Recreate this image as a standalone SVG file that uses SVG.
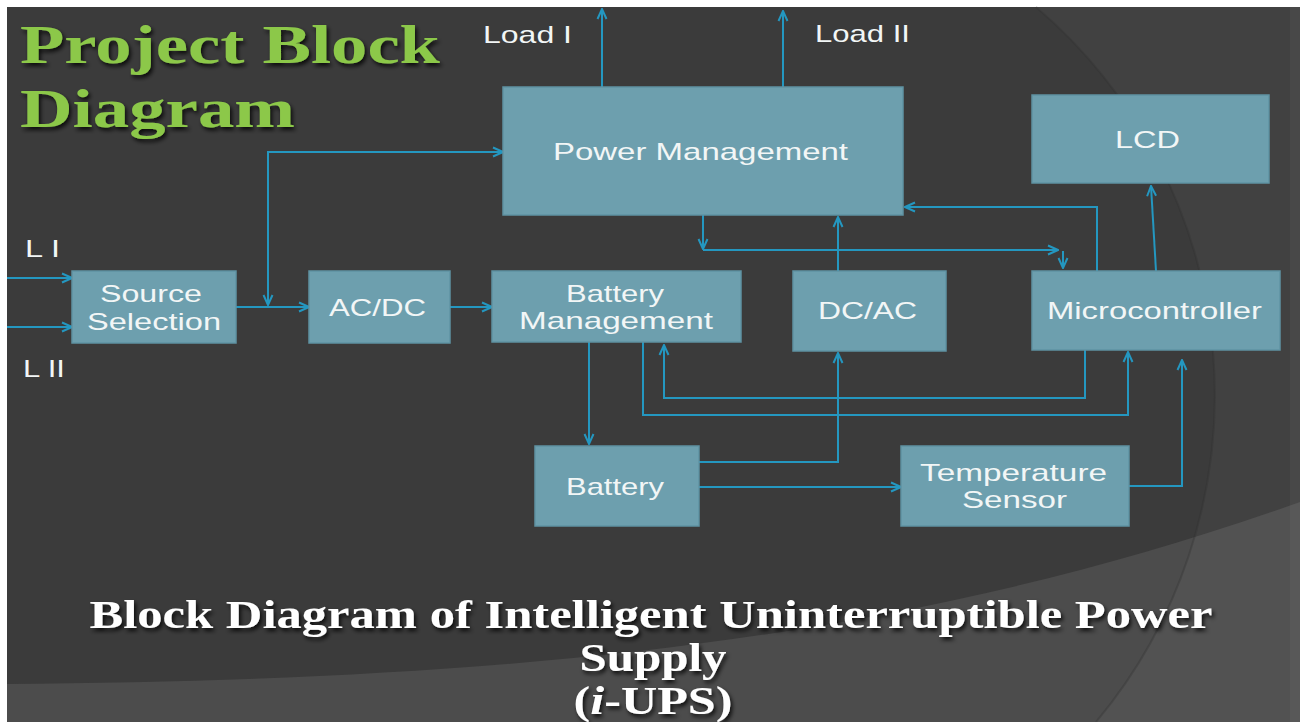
<svg xmlns="http://www.w3.org/2000/svg" width="1302" height="722" viewBox="0 0 1302 722">
<defs>
<marker id="arr" viewBox="0 0 12 12" refX="11" refY="6" markerWidth="12" markerHeight="12" markerUnits="userSpaceOnUse" orient="auto-start-reverse">
<path d="M1,1.5 L11,6 L1,10.5" fill="none" stroke="#2497c0" stroke-width="2"/>
</marker>
<filter id="sh" x="-5%" y="-20%" width="110%" height="140%">
<feDropShadow dx="2" dy="3" stdDeviation="2" flood-color="#000" flood-opacity="0.8"/>
</filter>
</defs>
<style>
.node rect{fill:#6d9fae;stroke:#5f93a3;stroke-width:1.5}
.node text{font-family:"Liberation Sans",Arial,sans-serif;font-size:24px;fill:#f2f6f6;text-anchor:middle}
.lbl{font-family:"Liberation Sans",Arial,sans-serif;font-size:24px;fill:#f2f6f6}
.conn path{fill:none;stroke:#2497c0;stroke-width:2}
.title{font-family:"Liberation Serif","Times New Roman",serif;font-weight:bold;font-size:54px;fill:#8cc84a}
.cap{font-family:"Liberation Serif","Times New Roman",serif;font-weight:bold;font-size:40px;fill:#ffffff;text-anchor:middle}
</style>
<rect x="0" y="0" width="1302" height="722" fill="#ffffff"/>
<g id="background">
<rect x="7" y="7" width="1293" height="715" fill="#3b3b3b"/>
<path d="M7,684 C500,680 900,645 1300,502 L1300,722 L7,722 Z" fill="#4c4c4c"/>
<path d="M1036,7 A510,510 0 0 1 1096,722 L1300,722 L1300,7 Z" fill="#ffffff" fill-opacity="0.035"/>
<path d="M1036,7 A510,510 0 0 1 1096,722" fill="none" stroke="#2f2f2f" stroke-width="2" stroke-opacity="0.3"/>
<rect x="1290" y="7" width="10" height="715" fill="#ffffff" fill-opacity="0.04"/>
</g>
<g id="title">
<text class="title" x="20" y="63" textLength="420" lengthAdjust="spacingAndGlyphs" filter="url(#sh)">Project Block</text>
<text class="title" x="20" y="127" textLength="275" lengthAdjust="spacingAndGlyphs" filter="url(#sh)">Diagram</text>
</g>
<g id="labels">
<text class="lbl" x="483" y="43" textLength="89" lengthAdjust="spacingAndGlyphs">Load I</text>
<text class="lbl" x="815" y="42" textLength="95" lengthAdjust="spacingAndGlyphs">Load II</text>
<text class="lbl" x="25" y="257" textLength="35" lengthAdjust="spacingAndGlyphs">L I</text>
<text class="lbl" x="23" y="377" textLength="42" lengthAdjust="spacingAndGlyphs">L II</text>
</g>
<g id="connectors" class="conn">
<path d="M7,278 H72" marker-end="url(#arr)"/>
<path d="M7,327 H72" marker-end="url(#arr)"/>
<path d="M236,307 H309" marker-end="url(#arr)"/>
<path d="M268,305 V152 H503" marker-start="url(#arr)" marker-end="url(#arr)"/>
<path d="M450,307 H492" marker-end="url(#arr)"/>
<path d="M602,87 V9" marker-end="url(#arr)"/>
<path d="M783,87 V11" marker-end="url(#arr)"/>
<path d="M703,215 V249" marker-end="url(#arr)"/>
<path d="M703,250 H1058" marker-end="url(#arr)"/>
<path d="M1063,251 V268" marker-end="url(#arr)"/>
<path d="M838,271 V217" marker-end="url(#arr)"/>
<path d="M1097,271 V207 H905" marker-end="url(#arr)"/>
<path d="M1156,271 L1151,186" marker-end="url(#arr)"/>
<path d="M589,342 V444" marker-end="url(#arr)"/>
<path d="M643,342 V415 H1128 V352" marker-end="url(#arr)"/>
<path d="M1085,350 V398 H664 V345" marker-end="url(#arr)"/>
<path d="M699,462 H838 V353" marker-end="url(#arr)"/>
<path d="M699,487 H901" marker-end="url(#arr)"/>
<path d="M1129,486 H1182 V360" marker-end="url(#arr)"/>
</g>
<g id="power-management" class="node">
<rect x="503" y="87" width="400" height="128"/>
<text x="700.5" y="160" textLength="295" lengthAdjust="spacingAndGlyphs">Power Management</text>
</g>
<g id="lcd" class="node">
<rect x="1032" y="95" width="237" height="88"/>
<text x="1147.5" y="148" textLength="65" lengthAdjust="spacingAndGlyphs">LCD</text>
</g>
<g id="source-selection" class="node">
<rect x="72" y="271" width="164" height="72"/>
<text x="151" y="302" textLength="102" lengthAdjust="spacingAndGlyphs">Source</text>
<text x="154" y="330" textLength="134" lengthAdjust="spacingAndGlyphs">Selection</text>
</g>
<g id="ac-dc" class="node">
<rect x="309" y="271" width="141" height="72"/>
<text x="377.5" y="316" textLength="97" lengthAdjust="spacingAndGlyphs">AC/DC</text>
</g>
<g id="battery-management" class="node">
<rect x="492" y="271" width="249" height="71"/>
<text x="615" y="302" textLength="98" lengthAdjust="spacingAndGlyphs">Battery</text>
<text x="616" y="329" textLength="194" lengthAdjust="spacingAndGlyphs">Management</text>
</g>
<g id="dc-ac" class="node">
<rect x="793" y="271" width="153" height="80"/>
<text x="867.5" y="319" textLength="99" lengthAdjust="spacingAndGlyphs">DC/AC</text>
</g>
<g id="microcontroller" class="node">
<rect x="1032" y="271" width="248" height="79"/>
<text x="1154.5" y="319" textLength="215" lengthAdjust="spacingAndGlyphs">Microcontroller</text>
</g>
<g id="battery" class="node">
<rect x="535" y="446" width="164" height="80"/>
<text x="615" y="495" textLength="98" lengthAdjust="spacingAndGlyphs">Battery</text>
</g>
<g id="temperature-sensor" class="node">
<rect x="901" y="446" width="228" height="80"/>
<text x="1013.5" y="481" textLength="187" lengthAdjust="spacingAndGlyphs">Temperature</text>
<text x="1014.5" y="508" textLength="105" lengthAdjust="spacingAndGlyphs">Sensor</text>
</g>
<g id="caption">
<text class="cap" x="651" y="628" textLength="1123" lengthAdjust="spacingAndGlyphs" filter="url(#sh)">Block Diagram of Intelligent Uninterruptible  Power</text>
<text class="cap" x="653" y="671" textLength="147" lengthAdjust="spacingAndGlyphs" filter="url(#sh)">Supply</text>
<text class="cap" x="653" y="714" textLength="159" lengthAdjust="spacingAndGlyphs" filter="url(#sh)">(<tspan font-style="italic">i</tspan>-UPS)</text>
</g>
</svg>
